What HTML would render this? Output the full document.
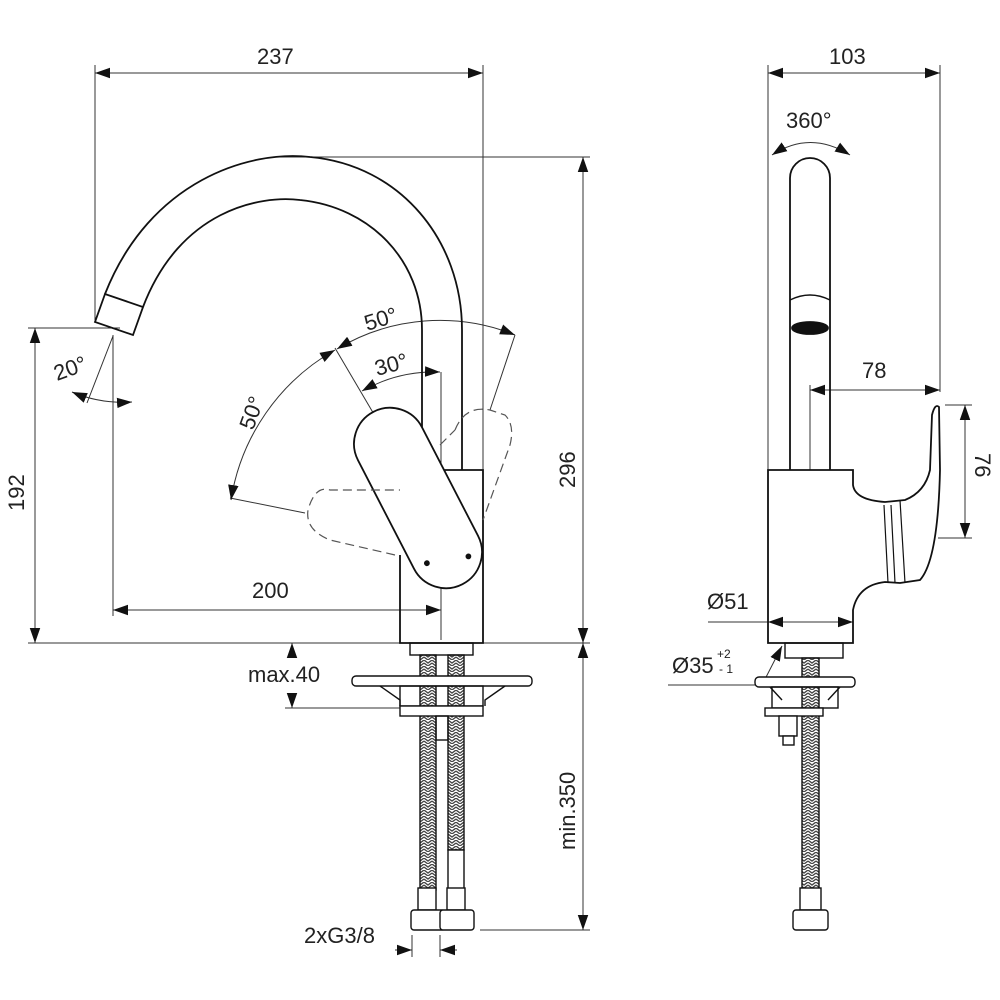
<!DOCTYPE html>
<html><head><style>html,body{margin:0;padding:0;background:#fff}svg{display:block}text{font-family:"Liberation Sans",sans-serif;fill:#222}</style></head>
<body>
<svg width="1000" height="1000" viewBox="0 0 1000 1000" xmlns="http://www.w3.org/2000/svg">
<defs>
<marker id="a" viewBox="0 0 10 10" refX="10" refY="5" markerWidth="15" markerHeight="15" markerUnits="userSpaceOnUse" orient="auto-start-reverse"><path d="M0,1.5 L10,5 L0,8.5z" fill="#111"/></marker>
<pattern id="h" width="8" height="6" patternUnits="userSpaceOnUse"><path d="M0,0 L4,3 L8,0 M0,3 L4,6 L8,3" stroke="#444" stroke-width="1.3" fill="none"/></pattern>
</defs>
<g fill="none" stroke="#333" stroke-width="1">
<line x1="95" y1="65" x2="95" y2="320"/>
<line x1="483" y1="65" x2="483" y2="470"/>
<line x1="280" y1="157" x2="590" y2="157"/>
<line x1="28" y1="328" x2="120" y2="328"/>
<line x1="113" y1="335" x2="113" y2="616"/>
<line x1="28" y1="643" x2="400" y2="643"/>
<line x1="483" y1="643" x2="590" y2="643"/>
<line x1="285" y1="708" x2="400" y2="708"/>
<line x1="480" y1="930" x2="590" y2="930"/>
<line x1="441" y1="372" x2="441" y2="640"/>
<line x1="95" y1="73" x2="483" y2="73" marker-start="url(#a)" marker-end="url(#a)"/>
<line x1="583" y1="157" x2="583" y2="643" marker-start="url(#a)" marker-end="url(#a)"/>
<line x1="35" y1="328" x2="35" y2="643" marker-start="url(#a)" marker-end="url(#a)"/>
<line x1="113" y1="610" x2="441" y2="610" marker-start="url(#a)" marker-end="url(#a)"/>
<line x1="583" y1="643" x2="583" y2="930" marker-start="url(#a)" marker-end="url(#a)"/>
<line x1="292" y1="658" x2="292" y2="643" marker-end="url(#a)"/>
<line x1="292" y1="693" x2="292" y2="708" marker-end="url(#a)"/>
<line x1="412" y1="935" x2="412" y2="957"/><line x1="440" y1="935" x2="440" y2="957"/>
<line x1="395" y1="950" x2="412" y2="950" marker-end="url(#a)"/><line x1="457" y1="950" x2="440" y2="950" marker-end="url(#a)"/>
<line x1="113" y1="336" x2="87" y2="403"/>
<path d="M72,392 Q100,404 132,402" marker-start="url(#a)" marker-end="url(#a)"/>
<line x1="335" y1="348" x2="375" y2="416"/>
<line x1="515" y1="335" x2="490" y2="410"/>
<line x1="230" y1="498" x2="305" y2="513"/>
<path d="M362,391 A150,150 0 0 1 440,372" marker-start="url(#a)" marker-end="url(#a)"/>
<path d="M337,349 A200,200 0 0 1 515,335" marker-start="url(#a)" marker-end="url(#a)"/>
<path d="M335,350 A210,210 0 0 0 231,500" marker-start="url(#a)" marker-end="url(#a)"/>
</g>
<g fill="none" stroke="#111" stroke-width="1.8">
<path d="M105,294 C150,180 250,150 310,157 C400,165 462,240 462,330 L462,470"/>
<path d="M143,307 C180,210 260,195 300,200 C370,207 422,260 422,330 L422,462"/>
<path d="M105,294 L95,322 L133,335 L143,307 Z"/>
<path d="M400,555 L400,643 L483,643 L483,470 L440,470"/>
<rect x="410" y="643" width="63" height="12" stroke-width="1.4"/>
<g transform="translate(418,498) rotate(62.7)"><rect x="-97" y="-36" width="194" height="72" rx="36" fill="#fff"/><circle cx="75" cy="-18" r="2" fill="#111"/><circle cx="62" cy="22" r="2" fill="#111"/></g>
</g>
<g fill="none" stroke="#555" stroke-width="1.2" stroke-dasharray="9,5">
<path d="M455,430 Q465,405 490,410 L505,415 Q515,425 510,445 L483,520"/>
<path d="M440,445 L455,430"/>
<path d="M395,555 L330,540 Q305,530 308,510 Q315,485 330,490 L400,490"/>
</g>
<g stroke="#111" stroke-width="1.4" fill="#fff">
<rect x="420" y="655" width="16" height="235" fill="url(#h)"/>
<rect x="448" y="655" width="16" height="195" fill="url(#h)"/>
<rect x="448" y="850" width="16" height="40"/>
<rect x="352" y="676" width="180" height="10" rx="4"/>
<path d="M380,686 L400,700 L400,706 M505,686 L485,700 L485,706" fill="none"/>
<rect x="400" y="686" width="83" height="20" fill="none"/>
<rect x="400" y="706" width="83" height="10"/>
<rect x="436" y="716" width="12" height="24" fill="none"/>
<rect x="418" y="888" width="18" height="22"/>
<rect x="447" y="888" width="18" height="22"/>
<rect x="411" y="910" width="34" height="20" rx="3"/>
<rect x="440" y="910" width="34" height="20" rx="3"/>
</g>
<g fill="none" stroke="#333" stroke-width="1">
<line x1="768" y1="65" x2="768" y2="470"/>
<line x1="940" y1="65" x2="940" y2="392"/>
<line x1="810" y1="385" x2="810" y2="470"/>
<line x1="768" y1="73" x2="940" y2="73" marker-start="url(#a)" marker-end="url(#a)"/>
<line x1="810" y1="390" x2="940" y2="390" marker-start="url(#a)" marker-end="url(#a)"/>
<line x1="945" y1="405" x2="972" y2="405"/><line x1="938" y1="538" x2="972" y2="538"/>
<line x1="965" y1="405" x2="965" y2="538" marker-start="url(#a)" marker-end="url(#a)"/>
<line x1="708" y1="622" x2="853" y2="622"/>
<line x1="768" y1="622" x2="810" y2="622" marker-start="url(#a)"/>
<line x1="810" y1="622" x2="853" y2="622" marker-end="url(#a)"/>
<path d="M668,685 L762,685 L782,646" marker-end="url(#a)"/>
<path d="M772,155 Q810,130 850,155" marker-start="url(#a)" marker-end="url(#a)"/>
</g>
<g fill="none" stroke="#111" stroke-width="1.8">
<path d="M790,470 L790,178 A20,20 0 0 1 830,178 L830,470"/>
<path d="M790,300 Q810,290 830,300" stroke-width="1.4"/>
<ellipse cx="810" cy="328" rx="18" ry="6" fill="#111"/>
<path d="M768,470 L853,470 L853,485 Q855,500 885,502 L905,500 Q925,492 930,470 L932,415 Q935,403 939,407 L940,470 Q938,560 920,580 L900,583 L885,582 Q858,585 853,610 L853,643 L768,643 Z"/>
<path d="M884,505 L888,583 M891,505 L895,583 M900,500 L905,583" stroke-width="1.2"/>
<rect x="785" y="643" width="58" height="15" stroke-width="1.4"/>
</g>
<g stroke="#111" stroke-width="1.4" fill="#fff">
<rect x="802" y="658" width="17" height="232" fill="url(#h)"/>
<rect x="755" y="677" width="100" height="10" rx="4"/>
<path d="M770,687 L782,700 M840,687 L828,700" fill="none"/>
<rect x="772" y="687" width="66" height="21" fill="none"/>
<rect x="765" y="708" width="58" height="8"/>
<rect x="779" y="716" width="18" height="20"/>
<rect x="783" y="736" width="11" height="9"/>
<rect x="800" y="888" width="21" height="22"/>
<rect x="793" y="910" width="35" height="20" rx="3"/>
</g>
<g font-size="22">
<text x="257" y="64">237</text>
<text x="829" y="64">103</text>
<text x="786" y="128">360°</text>
<text x="862" y="378">78</text>
<text x="252" y="598">200</text>
<text x="707" y="609">Ø51</text>
<text x="672" y="673">Ø35</text>
<text x="248" y="682">max.40</text>
<text x="304" y="943">2xG3/8</text>
<text transform="translate(24,511) rotate(-90)">192</text>
<text transform="translate(575,488) rotate(-90)">296</text>
<text transform="translate(575,850) rotate(-90)">min.350</text>
<text transform="translate(975,453) rotate(90)">76</text>
<text transform="translate(57,381) rotate(-20)">20°</text>
<text transform="translate(367,331) rotate(-17)">50°</text>
<text transform="translate(377,376) rotate(-15)">30°</text>
<text transform="translate(253,431) rotate(-70)">50°</text>
</g>
<text x="717" y="658" font-size="12">+2</text>
<text x="719" y="673" font-size="12">- 1</text>
</svg>
</body></html>
